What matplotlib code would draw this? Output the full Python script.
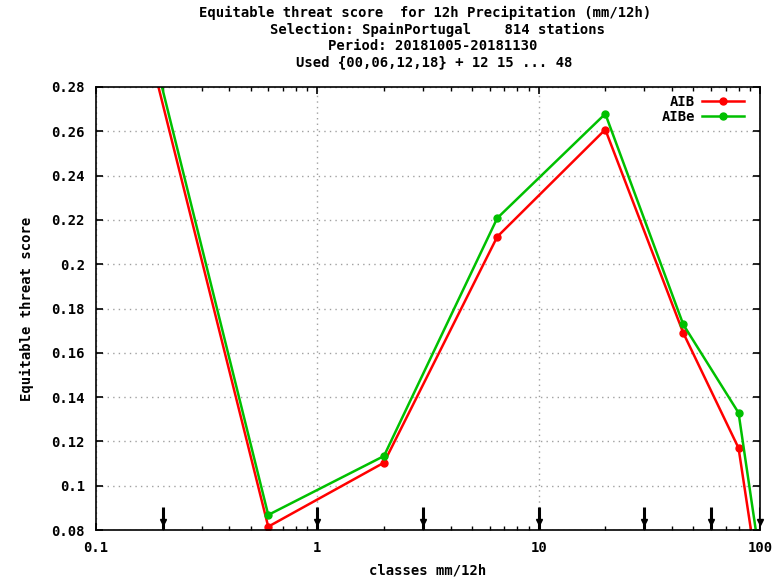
import matplotlib

matplotlib.use("Agg")
import matplotlib.pyplot as plt
from matplotlib.ticker import FixedLocator, LogLocator, NullFormatter

# class midpoints (mm/12h) and scores
classes = [0.1, 0.6, 2.0, 6.5, 20.0, 45.0, 80.0, 100.0]
ets_aib = [0.393, 0.0815, 0.1104, 0.2124, 0.2608, 0.169, 0.117, 0.053]
ets_aibe = [0.400, 0.0868, 0.1134, 0.2208, 0.2679, 0.1728, 0.1329, 0.067]

# class thresholds marked by arrows along the bottom
thresholds = [0.2, 1, 3, 10, 30, 60, 100]

yticks = [0.08, 0.1, 0.12, 0.14, 0.16, 0.18, 0.2, 0.22, 0.24, 0.26, 0.28]
ytick_labels = ["0.08", "0.1", "0.12", "0.14", "0.16", "0.18", "0.2",
                "0.22", "0.24", "0.26", "0.28"]
xticks = [0.1, 1, 10, 100]
xtick_labels = ["0.1", "1", "10", "100"]

title_lines = [
    ("Equitable threat score  for 12h Precipitation (mm/12h)", 425),
    ("Selection: SpainPortugal    814 stations", 437),
    ("Period: 20181005-20181130", 433),
    ("Used {00,06,12,18} + 12 15 ... 48", 434),
]

FONT = dict(family="DejaVu Sans Mono", weight="bold", size=10)
W, H = 778, 579

fig = plt.figure(figsize=(W / 100, H / 100), dpi=100)
ax = fig.add_axes([96 / W, 1 - 530 / H, (760 - 96) / W, (530 - 87) / H])

ax.plot(classes, ets_aib, "-o", color="#ff0000", lw=1.8, ms=5, label="AIB")
ax.plot(classes, ets_aibe, "-o", color="#00c000", lw=1.8, ms=5, label="AIBe")

ax.vlines(thresholds, 0.08, 0.0905, color="black", lw=2.2, zorder=4)
ax.plot(thresholds, [0.0838] * len(thresholds), "v", color="black", ms=4.5, zorder=4,
        clip_on=False)

ax.set_xscale("log")
ax.set_xlim(0.1, 100)
ax.set_ylim(0.08, 0.28)
ax.xaxis.set_major_locator(FixedLocator(xticks))
ax.set_xticklabels(xtick_labels, **FONT)
ax.xaxis.set_minor_locator(LogLocator(base=10, subs=range(2, 10)))
ax.xaxis.set_minor_formatter(NullFormatter())
ax.set_yticks(yticks)
ax.set_yticklabels(ytick_labels, **FONT)

ax.tick_params(which="both", direction="in", top=True, right=True, color="black")
ax.tick_params(which="major", length=5, width=1.2, pad=8)
ax.tick_params(which="minor", length=3, width=1.0)
ax.grid(True, which="major", color="#a0a0a0", ls=(0, (1, 3)), lw=1.0)
for s in ax.spines.values():
    s.set_linewidth(1.2)

fig.text(428 / W, 1 - 570 / H, "classes mm/12h", ha="center", va="center", **FONT)
fig.text(27 / W, 1 - 309 / H, "Equitable threat score", ha="center", va="center",
         rotation=90, **FONT)

leg = ax.legend(loc="upper right", bbox_to_anchor=(0.99, 1.005), frameon=False,
                markerfirst=False,
                prop=dict(family="DejaVu Sans Mono", weight="bold", size=10),
                handlelength=3.0, handletextpad=0.5, borderaxespad=0.3,
                labelspacing=0.1)

for i, (txt, cx) in enumerate(title_lines):
    fig.text(cx / W, 1 - (13 + 16.5 * i) / H, txt, ha="center", va="center", **FONT)

fig.savefig("out.png", dpi=100)
